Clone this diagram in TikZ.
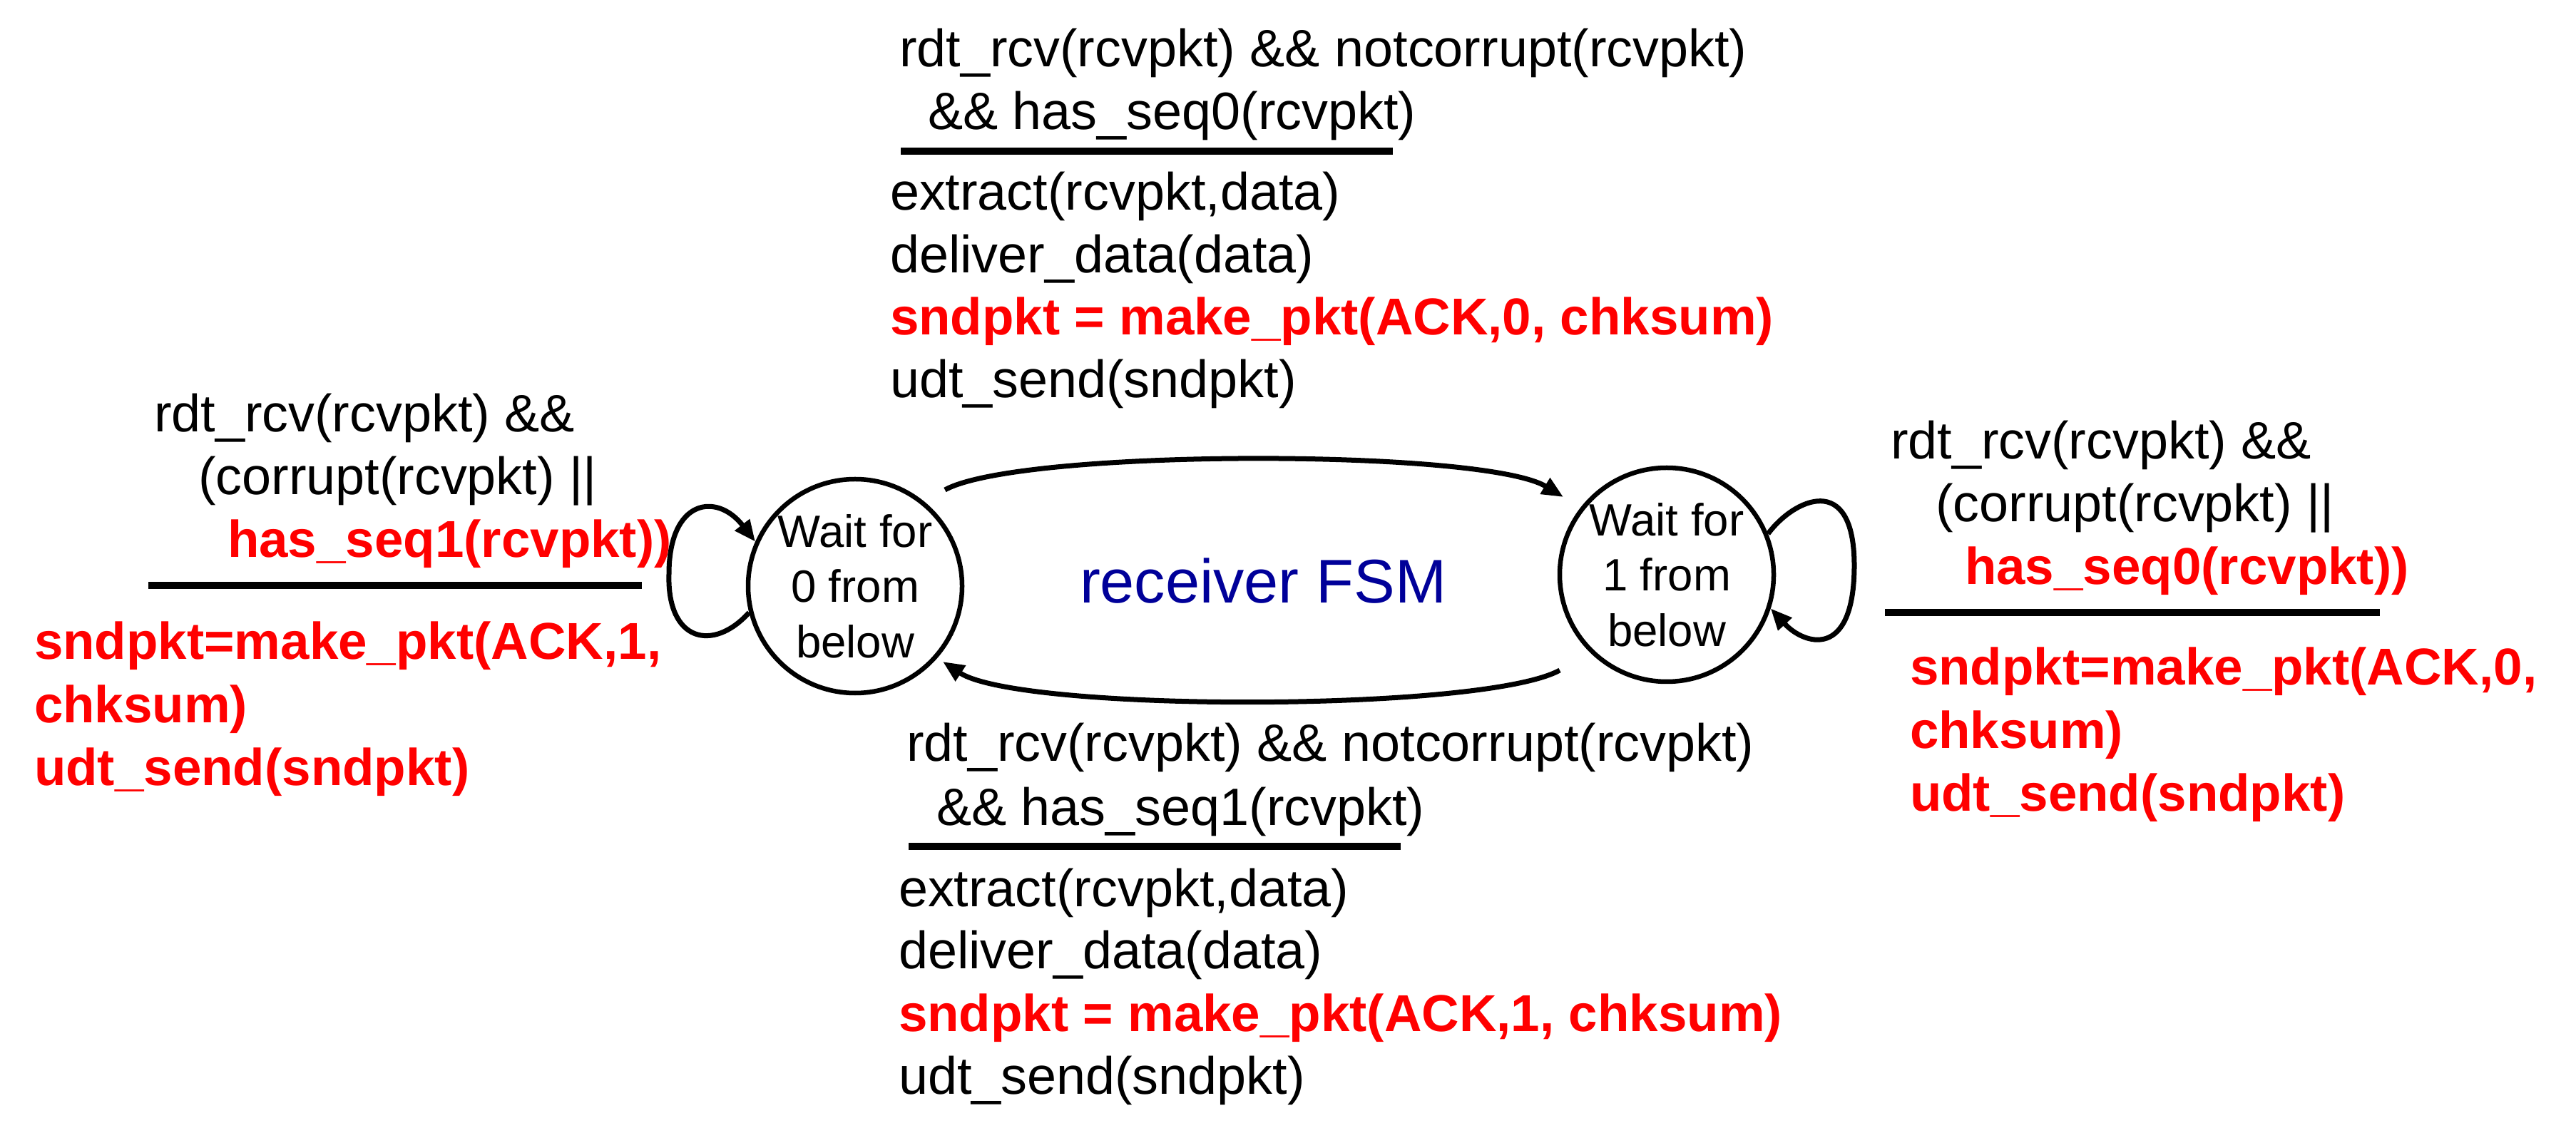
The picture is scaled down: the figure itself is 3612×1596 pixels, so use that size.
\documentclass[tikz,border=0pt]{standalone}
\usepackage{fontspec}
\setmainfont{Liberation Sans}
\usetikzlibrary{arrows.meta,calc}
\definecolor{fsmblue}{RGB}{0,0,153}
\definecolor{actred}{RGB}{255,0,0}
\begin{document}
\begin{tikzpicture}[x=0.2pt,y=-0.2pt,
  lbl/.style={anchor=base west,inner sep=0pt,font=\fontsize{14.75pt}{17.6pt}\selectfont},
  act/.style={anchor=base west,inner sep=0pt,text=actred,font=\fontsize{14.55pt}{17.6pt}\selectfont\bfseries},
  state/.style={circle,draw,line width=1.3pt,minimum size=60pt,inner sep=0pt,align=center,font=\fontsize{12.7pt}{15.5pt}\selectfont},
  rulebar/.style={line width=2pt},
  arr/.style={line width=1.4pt,-{Triangle[length=6pt,width=5pt]}}]
\useasboundingbox (0,0) rectangle (3612,1596);

% states
\node[state] (s0) at (1199,822) {Wait for\\0 from\\below};
\node[state] (s1) at (2337,806) {Wait for\\1 from\\below};
\node[anchor=base west,inner sep=0pt,text=fsmblue,font=\fontsize{17.3pt}{20pt}\selectfont] (title) at (1513,846) {receiver FSM};

% transitions
\draw[arr] ($(s0)+(126,-135)$) .. controls (1430,629) and (2080,629) .. ($(s1)+(-145,-109)$);
\draw[arr] ($(s1)+(-150,134)$) .. controls (2080,999) and (1430,999) .. ($(s0)+(123,106)$);
\draw[arr] (s0.194) .. controls (1000,915) and (935,900) .. (938,805) .. controls (938,700) and (1005,690) .. (s0.156);
\draw[arr] (s1.22) .. controls (2515,700) and (2600,660) .. (2600,793) .. controls (2600,926) and (2530,905) .. (s1.-18);

% top block
\node[lbl] (t1) at (1260,94) {rdt\_rcv(rcvpkt) \&\& notcorrupt(rcvpkt)};
\node[lbl] (t2) at (1300,182) {\&\& has\_seq0(rcvpkt)};
\coordinate (ta) at (1263,212); \coordinate (tb) at (1953,212);
\draw[rulebar] (ta) -- (tb);
\node[lbl] (t3) at (1247,295) {extract(rcvpkt,data)};
\node[lbl] (t4) at (1247,383) {deliver\_data(data)};
\node[act] (t5) at (1247,470) {sndpkt = make\_pkt(ACK,0, chksum)};
\node[lbl] (t6) at (1247,558) {udt\_send(sndpkt)};

% bottom block
\node[lbl] (b1) at (1270,1068) {rdt\_rcv(rcvpkt) \&\& notcorrupt(rcvpkt)};
\node[lbl] (b2) at (1312,1157) {\&\& has\_seq1(rcvpkt)};
\coordinate (ba) at (1274,1187); \coordinate (bb) at (1964,1187);
\draw[rulebar] (ba) -- (bb);
\node[lbl] (b3) at (1259,1271) {extract(rcvpkt,data)};
\node[lbl] (b4) at (1259,1358) {deliver\_data(data)};
\node[act] (b5) at (1259,1446) {sndpkt = make\_pkt(ACK,1, chksum)};
\node[lbl] (b6) at (1259,1534) {udt\_send(sndpkt)};

% left block
\node[lbl] (l1) at (215,606) {rdt\_rcv(rcvpkt) \&\&};
\node[lbl] (l2) at (277,694) {(corrupt(rcvpkt) ||};
\node[act] (l3) at (318,782) {has\_seq1(rcvpkt))};
\coordinate (la) at (208,821); \coordinate (lb) at (900,821);
\draw[rulebar] (la) -- (lb);
\node[act] (l4) at (47,925) {sndpkt=make\_pkt(ACK,1,};
\node[act] (l5) at (47,1013) {chksum)};
\node[act] (l6) at (47,1101) {udt\_send(sndpkt)};

% right block
\node[lbl] (r1) at (2650,644) {rdt\_rcv(rcvpkt) \&\&};
\node[lbl] (r2) at (2713,732) {(corrupt(rcvpkt) ||};
\node[act] (r3) at (2754,820) {has\_seq0(rcvpkt))};
\coordinate (ra) at (2643,859); \coordinate (rb) at (3337,859);
\draw[rulebar] (ra) -- (rb);
\node[act] (r4) at (2677,961) {sndpkt=make\_pkt(ACK,0,};
\node[act] (r5) at (2677,1049) {chksum)};
\node[act] (r6) at (2677,1137) {udt\_send(sndpkt)};
\end{tikzpicture}
\end{document}
